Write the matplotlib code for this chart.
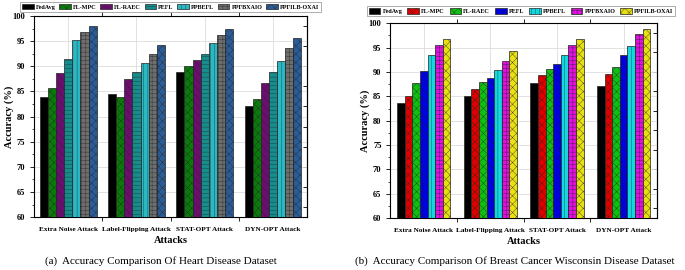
import matplotlib
matplotlib.use('Agg')
import matplotlib.pyplot as plt
import numpy as np

plt.rcParams['font.family'] = ['Liberation Serif', 'DejaVu Serif']
plt.rcParams['hatch.linewidth'] = 0.25

attacks = ['Extra Noise Attack', 'Label-Flipping Attack', 'STAT-OPT Attack', 'DYN-OPT Attack']
methods = ['FedAvg', 'FL-MPC', 'FL-RAEC', 'PEFL', 'PPBEFL', 'PPFBXAIO', 'PPFILB-OXAI']

# (a) heart disease dataset, one list per method, in attack order
heart = {
    'FedAvg':      [83.9, 84.5, 88.8, 82.0],
    'FL-MPC':      [85.7, 83.9, 90.0, 83.5],
    'FL-RAEC':     [88.6, 87.5, 91.3, 86.7],
    'PEFL':        [91.5, 88.9, 92.5, 88.9],
    'PPBEFL':      [95.2, 90.6, 94.7, 91.0],
    'PPFBXAIO':    [96.9, 92.5, 96.3, 93.7],
    'PPFILB-OXAI': [98.0, 94.2, 97.5, 95.7],
}
# (b) breast cancer wisconsin dataset
breast = {
    'FedAvg':      [83.6, 85.1, 87.7, 87.2],
    'FL-MPC':      [85.1, 86.5, 89.3, 89.6],
    'FL-RAEC':     [87.7, 87.9, 90.7, 91.1],
    'PEFL':        [90.2, 88.8, 91.6, 93.5],
    'PPBEFL':      [93.5, 90.3, 93.4, 95.3],
    'PPFBXAIO':    [95.6, 92.2, 95.6, 97.7],
    'PPFILB-OXAI': [96.8, 94.2, 96.7, 98.8],
}

heart_colors = ['#000000', '#0a7a0a', '#6a0f6e', '#168c8c', '#2ab8c4', '#6e6e6e', '#2c5c96']
heart_hatch = [None, 'xxxx', '\\\\\\\\', '----', '||||', '++++', 'xxxx']
breast_colors = ['#000000', '#e00000', '#10c010', '#0000e0', '#10d8e0', '#e010e0', '#e8e010']
breast_hatch = [None, 'xxxx', 'xxxx', '\\\\\\\\', '||||', '++++', 'xxxx']

fig = plt.figure(figsize=(6.85, 2.7), dpi=100)
ax1 = fig.add_axes([0.050, 0.196, 0.398, 0.745])
ax2 = fig.add_axes([0.570, 0.192, 0.389, 0.722])


def draw(ax, data, colors, hatches, group_w):
    x = np.arange(len(attacks))
    w = group_w / len(methods)
    for i, m in enumerate(methods):
        ax.bar(x - group_w / 2 + w * (i + 0.5), data[m], w, color=colors[i],
               edgecolor='#222222', linewidth=0.5, hatch=hatches[i], label=m, zorder=3)
    ax.set_ylim(60, 100)
    ax.set_xlim(-0.5, len(attacks) - 0.5)
    ax.set_yticks(np.arange(60, 101, 5))
    ax.set_yticks(np.arange(60, 100, 2.5), minor=True)
    ax.set_xticks(x)
    ax.set_xticklabels(attacks, fontsize=5.2, fontweight='bold')
    ax.set_xticks(x[:-1] + 0.5, minor=True)
    ax.tick_params(axis='x', which='major', length=0, pad=7)
    ax.tick_params(axis='x', which='minor', length=3, width=0.6, top=True)
    ax.tick_params(axis='y', which='major', labelsize=6, length=3, width=0.6)
    ax.tick_params(axis='y', which='minor', length=1.5, width=0.5)
    for lab in ax.get_yticklabels():
        lab.set_fontweight('bold')
    # right-hand ticks, pointing inwards, no labels
    sec = ax.secondary_yaxis('right')
    sec.set_yticks(np.arange(62, 100, 4))
    sec.tick_params(direction='in', length=3, width=0.6, labelright=False)
    ax.grid(True, color='#dddddd', linewidth=0.6, zorder=0)
    for s in ax.spines.values():
        s.set_linewidth(0.8)
    ax.set_xlabel('Attacks', fontsize=7.5, fontweight='bold', labelpad=3)
    ax.set_ylabel('Accuracy (%)', fontsize=7.5, fontweight='bold')
    ax.yaxis.set_label_coords(-0.075, 0.5)


draw(ax1, heart, heart_colors, heart_hatch, 0.83)
draw(ax2, breast, breast_colors, breast_hatch, 0.80)

leg_kw = dict(ncol=7, frameon=True, fancybox=False, edgecolor='#888888',
              handlelength=1.9, handleheight=0.9, handletextpad=0.35,
              borderpad=0.35, prop={'weight': 'bold', 'size': 4.4})
leg1 = ax1.legend(loc='lower center', bbox_to_anchor=(0.50, 1.005), columnspacing=0.6, **leg_kw)
leg2 = ax2.legend(loc='lower center', bbox_to_anchor=(0.49, 1.02), columnspacing=0.8, **leg_kw)
for leg in (leg1, leg2):
    leg.get_frame().set_linewidth(0.6)

fig.text(0.235, 0.025, '(a)  Accuracy Comparison Of Heart Disease Dataset', ha='center', fontsize=8)
fig.text(0.752, 0.025, '(b)  Accuracy Comparison Of Breast Cancer Wisconsin Disease Dataset',
         ha='center', fontsize=8)

fig.savefig('out.png', dpi=100)
